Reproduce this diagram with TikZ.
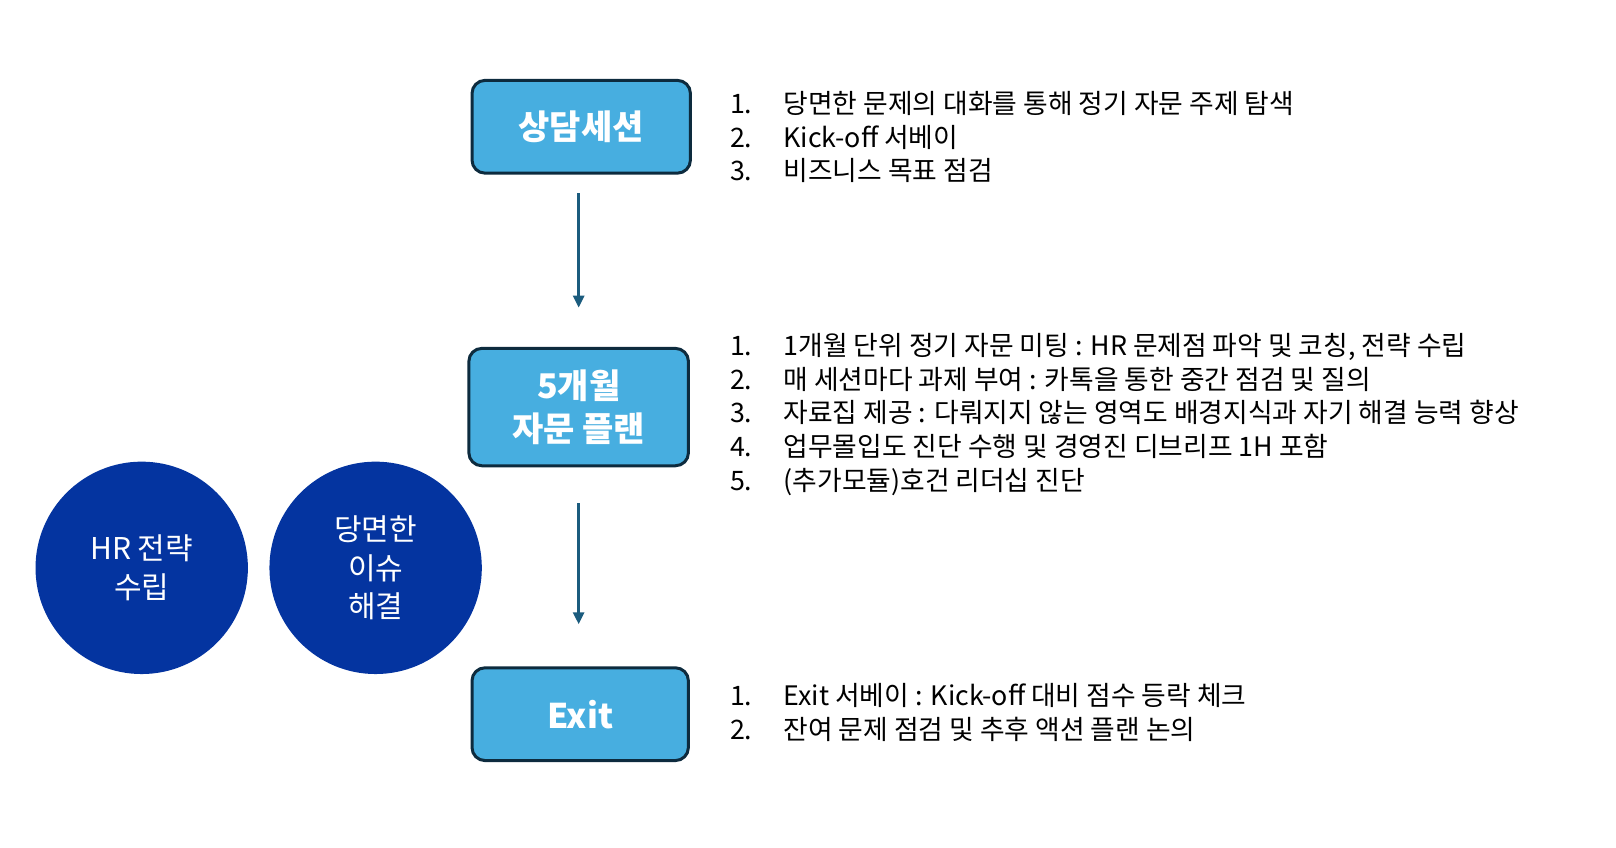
\documentclass[tikz,border=0pt]{standalone}
\usepackage{fontspec}
\setmainfont{Noto Sans CJK KR}
\usetikzlibrary{arrows.meta}
\definecolor{boxfill}{HTML}{47AEE0}
\definecolor{boxedge}{HTML}{0D2B3E}
\definecolor{arrowc}{HTML}{1B5C7E}
\definecolor{circfill}{HTML}{0434A0}
\tikzset{
  stepbox/.style={draw=boxedge, line width=1.5pt, fill=boxfill, rounded corners=6.5pt,
    text=white, font=\fontsize{17}{21.6}\selectfont\bfseries, align=center, inner sep=0pt},
  goal/.style={circle, fill=circfill, minimum size=106.2pt, inner sep=0pt,
    text=white, font=\fontsize{15}{19.1}\selectfont, align=center},
  flow/.style={draw=arrowc, line width=1.4pt, -{Triangle[length=6pt,width=5.5pt]}},
  item/.style={anchor=base west, inner sep=0pt, font=\fontsize{13.4}{17}\selectfont}
}
\newcommand{\numlab}[1]{\makebox[26.8pt][l]{#1}}
\begin{document}
\begin{tikzpicture}[x=0.5153pt,y=-0.5153pt]
\useasboundingbox (0,0) rectangle (1568.1,821.9);
% boxes
\node[stepbox, minimum width=109.2pt, minimum height=46.4pt] (b1) at (564,123) {상담세션};
\node[stepbox, minimum width=109.8pt, minimum height=58.7pt] (b2) at (561.5,395) {5개월\\자문 플랜};
\node[stepbox, minimum width=108.2pt, minimum height=46.4pt] (b3) at (563,693) {Exit};
% arrows
\draw[flow, shorten <=9.3pt, shorten >=19.6pt] (b1.south -| b2.north) -- (b2.north);
\draw[flow, shorten <=18pt, shorten >=21pt] (b2.south) -- (b3.north -| b2.south);
% circles
\node[goal] (c1) at (137.5,551) {HR 전략\\수립};
\node[goal] (c2) at (364.5,551) {당면한\\이슈\\해결};
% list 1
\node[item] (a1) at (708,110) {\numlab{1.}당면한 문제의 대화를 통해 정기 자문 주제 탐색};
\node[item] (a2) at (708,143) {\numlab{2.}Kick-off 서베이};
\node[item] (a3) at (708,175) {\numlab{3.}비즈니스 목표 점검};
% list 2
\node[item] (m1) at (708,345) {\numlab{1.}1개월 단위 정기 자문 미팅 : HR 문제점 파악 및 코칭, 전략 수립};
\node[item] (m2) at (708,378) {\numlab{2.}매 세션마다 과제 부여 : 카톡을 통한 중간 점검 및 질의};
\node[item] (m3) at (708,410) {\numlab{3.}자료집 제공 : 다뤄지지 않는 영역도 배경지식과 자기 해결 능력 향상};
\node[item] (m4) at (708,443) {\numlab{4.}업무몰입도 진단 수행 및 경영진 디브리프 1H 포함};
\node[item] (m5) at (708,476) {\numlab{5.}(추가모듈)호건 리더십 진단};
% list 3
\node[item] (e1) at (708,685) {\numlab{1.}Exit 서베이 : Kick-off 대비 점수 등락 체크};
\node[item] (e2) at (708,718) {\numlab{2.}잔여 문제 점검 및 추후 액션 플랜 논의};
\end{tikzpicture}
\end{document}
